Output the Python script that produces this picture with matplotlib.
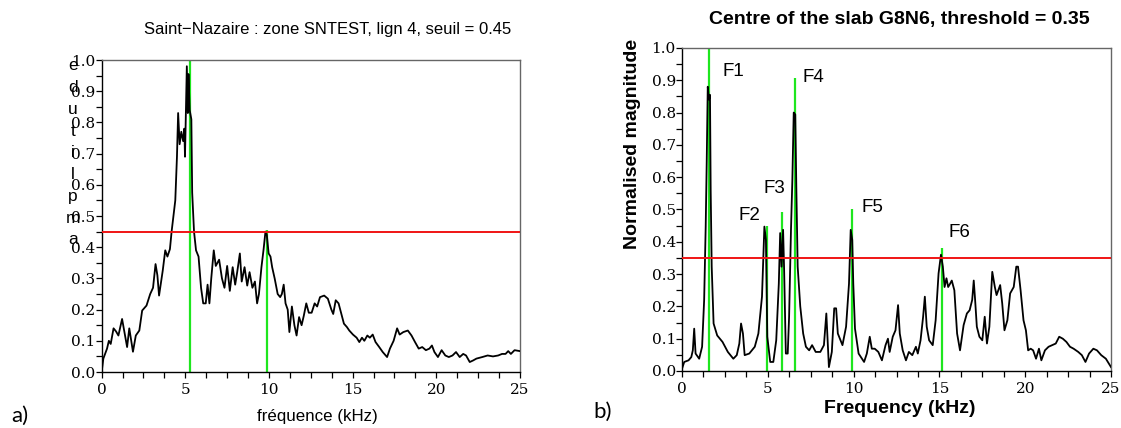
import matplotlib
matplotlib.use("Agg")
import matplotlib.pyplot as plt
from matplotlib.ticker import MultipleLocator, FormatStrFormatter

# panel a) spectrum (frequency kHz, normalised amplitude)
freq_a = [0, 0.1, 0.32, 0.43, 0.54, 0.71, 0.86, 1.0, 1.22, 1.39, 1.52, 1.65, 1.87, 2.04,
          2.25, 2.42, 2.68, 2.9, 3.07, 3.22, 3.33, 3.43, 3.65, 3.8, 3.93, 4.08, 4.18, 4.4,
          4.5, 4.57, 4.66, 4.76, 4.87, 4.94, 4.98, 5.09, 5.15, 5.19, 5.26, 5.36, 5.41, 5.52,
          5.64, 5.79, 5.94, 6.07, 6.22, 6.33, 6.44, 6.55, 6.7, 6.82, 7.02, 7.19, 7.34, 7.5,
          7.66, 7.83, 7.98, 8.1, 8.26, 8.37, 8.54, 8.7, 8.84, 9.01, 9.16, 9.29, 9.4, 9.55,
          9.68, 9.79, 9.87, 9.98, 10.09, 10.19, 10.34, 10.52, 10.67, 10.77, 10.88, 10.99,
          11.12, 11.22, 11.37, 11.52, 11.65, 11.8, 11.95, 12.08, 12.23, 12.38, 12.55, 12.73,
          12.88, 13.05, 13.3, 13.52, 13.73, 13.84, 13.99, 14.16, 14.31, 14.48, 14.66, 14.8,
          15.02, 15.24, 15.4, 15.56, 15.7, 15.88, 16.03, 16.2, 16.37, 16.59, 16.8, 17.06,
          17.23, 17.45, 17.66, 17.81, 18.03, 18.3, 18.52, 18.73, 18.95, 19.16, 19.38, 19.59,
          19.74, 19.89, 20.1, 20.32, 20.54, 20.75, 20.97, 21.18, 21.4, 21.61, 21.78, 22.0,
          22.2, 22.4, 22.75, 23.07, 23.39, 23.7, 23.93, 24.14, 24.3, 24.46, 24.68, 25.0]
amp_a = [0.0, 0.043, 0.075, 0.10, 0.09, 0.14, 0.13, 0.117, 0.17, 0.12, 0.08, 0.14, 0.065, 0.117,
         0.133, 0.197, 0.213, 0.25, 0.27, 0.346, 0.31, 0.245, 0.325, 0.39, 0.37, 0.394, 0.45, 0.55,
         0.69, 0.83, 0.73, 0.77, 0.74, 0.78, 0.69, 0.98, 0.83, 0.955, 0.84, 0.81, 0.575, 0.45,
         0.39, 0.37, 0.27, 0.22, 0.22, 0.28, 0.22, 0.30, 0.39, 0.34, 0.36, 0.30, 0.27, 0.34,
         0.26, 0.336, 0.28, 0.32, 0.38, 0.29, 0.336, 0.277, 0.32, 0.27, 0.29, 0.22, 0.25, 0.336,
         0.394, 0.45, 0.44, 0.38, 0.37, 0.336, 0.30, 0.25, 0.24, 0.25, 0.28, 0.22,
         0.20, 0.128, 0.21, 0.15, 0.117, 0.176, 0.15, 0.18, 0.22, 0.19, 0.19, 0.22,
         0.21, 0.24, 0.245, 0.235, 0.20, 0.186, 0.23, 0.22, 0.19, 0.155, 0.144, 0.133,
         0.12, 0.11, 0.096, 0.11, 0.10, 0.117, 0.11, 0.12, 0.096, 0.08, 0.064, 0.048,
         0.075, 0.10, 0.14, 0.12, 0.128, 0.133, 0.117, 0.096, 0.075, 0.08, 0.07, 0.075,
         0.085, 0.064, 0.048, 0.07, 0.053, 0.048, 0.053, 0.064, 0.048, 0.058, 0.053, 0.032,
         0.037, 0.043, 0.048, 0.053, 0.05, 0.053, 0.058, 0.058, 0.067, 0.058, 0.07, 0.067]
peaks_a = [5.3, 9.87]
peak_tops_a = [1.0, 0.455]
seuil_a = 0.45

# panel b) spectrum
freq_b = [0, 0.13, 0.38, 0.54, 0.63, 0.71, 0.79, 1.0, 1.17, 1.29, 1.38, 1.44, 1.5, 1.57, 1.63,
          1.67, 1.73, 1.84, 2.05, 2.36, 2.67, 2.99, 3.19, 3.34, 3.44, 3.55, 3.65, 3.92, 4.24,
          4.45, 4.66, 4.8, 4.89, 4.97, 5.14, 5.32, 5.49, 5.64, 5.72, 5.8, 5.89, 5.95, 6.05,
          6.16, 6.24, 6.35, 6.43, 6.51, 6.6, 6.66, 6.74, 6.89, 7.06, 7.22, 7.41, 7.58, 7.79,
          8.06, 8.27, 8.41, 8.56, 8.73, 8.87, 8.98, 9.08, 9.35, 9.56, 9.73, 9.83, 9.92, 9.98,
          10.08, 10.29, 10.61, 10.77, 10.94, 11.06, 11.23, 11.44, 11.65, 11.86, 12.0, 12.1,
          12.28, 12.44, 12.59, 12.69, 12.86, 13.05, 13.22, 13.42, 13.63, 13.74, 13.9, 14.05,
          14.15, 14.26, 14.4, 14.61, 14.78, 14.95, 15.09, 15.2, 15.3, 15.41, 15.51, 15.62,
          15.72, 15.87, 16.03, 16.2, 16.41, 16.6, 16.76, 16.91, 17.0, 17.08, 17.18, 17.33,
          17.5, 17.64, 17.77, 17.91, 18.08, 18.23, 18.33, 18.54, 18.66, 18.79, 18.96, 19.12,
          19.33, 19.48, 19.58, 19.73, 19.9, 20.04, 20.17, 20.32, 20.46, 20.63, 20.8, 20.94,
          21.15, 21.36, 21.57, 21.78, 21.98, 22.19, 22.4, 22.61, 22.82, 23.09, 23.3, 23.51,
          23.72, 23.97, 24.18, 24.43, 24.7, 25.0]
mag_b = [0.007, 0.028, 0.033, 0.043, 0.064, 0.131, 0.054, 0.038, 0.075, 0.22, 0.447, 0.65, 0.88,
         0.84, 0.855, 0.56, 0.323, 0.147, 0.11, 0.09, 0.059, 0.038, 0.049, 0.085, 0.147, 0.116,
         0.049, 0.054, 0.075, 0.116, 0.23, 0.447, 0.406, 0.106, 0.028, 0.028, 0.095, 0.27, 0.427,
         0.323, 0.437, 0.313, 0.054, 0.054, 0.168, 0.437, 0.592, 0.8, 0.794, 0.571, 0.323, 0.2,
         0.116, 0.075, 0.064, 0.08, 0.059, 0.059, 0.08, 0.178, 0.012, 0.059, 0.194, 0.194, 0.116,
         0.08, 0.137, 0.27, 0.437, 0.406, 0.27, 0.131, 0.054, 0.028, 0.054, 0.106, 0.069, 0.069,
         0.059, 0.033, 0.08, 0.1, 0.059, 0.106, 0.126, 0.204, 0.116, 0.064, 0.033, 0.059, 0.049,
         0.075, 0.054, 0.095, 0.168, 0.23, 0.137, 0.095, 0.08, 0.157, 0.302, 0.36, 0.323, 0.26,
         0.287, 0.26, 0.27, 0.28, 0.25, 0.116, 0.064, 0.142, 0.178, 0.188, 0.22, 0.28, 0.22,
         0.137, 0.106, 0.095, 0.168, 0.085, 0.137, 0.307, 0.26, 0.235, 0.266, 0.209, 0.126,
         0.157, 0.24, 0.26, 0.323, 0.323, 0.25, 0.157, 0.126, 0.064, 0.069, 0.064, 0.038, 0.069,
         0.033, 0.064, 0.075, 0.08, 0.085, 0.106, 0.1, 0.09, 0.075, 0.069, 0.059, 0.049, 0.028,
         0.054, 0.069, 0.064, 0.049, 0.038, 0.012]
peaks_b = [1.57, 4.93, 5.8, 6.56, 9.92, 15.14]
peak_tops_b = [1.0, 0.45, 0.493, 0.906, 0.501, 0.38]
peak_names = ["F1", "F2", "F3", "F4", "F5", "F6"]
name_x = [3.0, 3.9, 5.38, 7.65, 11.07, 16.16]
name_y = [0.926, 0.482, 0.565, 0.91, 0.506, 0.43]
seuil_b = 0.35

GREEN = "#1ee61e"
RED = "#f01414"
TICKFONT = "DejaVu Serif"

fig = plt.figure(figsize=(11.21, 4.28), dpi=100)
ax1 = fig.add_axes([0.0907, 0.1308, 0.3731, 0.729])
ax2 = fig.add_axes([0.6084, 0.1332, 0.3827, 0.7547])


def style_axes(ax):
    ax.set_xlim(0, 25)
    ax.set_ylim(0, 1)
    ax.xaxis.set_major_locator(MultipleLocator(5))
    ax.xaxis.set_minor_locator(MultipleLocator(1.25))
    ax.yaxis.set_major_locator(MultipleLocator(0.1))
    ax.yaxis.set_minor_locator(MultipleLocator(0.05))
    ax.yaxis.set_major_formatter(FormatStrFormatter("%.1f"))
    ax.tick_params(which="both", direction="out", length=4, width=0.9, color="black")
    ax.tick_params(axis="y", pad=0.5)
    ax.tick_params(axis="x", pad=4)
    for lab in ax.get_xticklabels() + ax.get_yticklabels():
        lab.set_family(TICKFONT)
        lab.set_fontsize(11)
    for side in ["left", "bottom"]:
        ax.spines[side].set_color("black")
        ax.spines[side].set_linewidth(1.0)
    for side in ["top", "right"]:
        ax.spines[side].set_color("#666666")
        ax.spines[side].set_linewidth(1.0)


# a)
style_axes(ax1)
ax1.vlines(peaks_a, 0, peak_tops_a, colors=GREEN, linewidth=1.6, zorder=2)
ax1.plot(freq_a, amp_a, color="black", linewidth=1.3, zorder=3)
ax1.axhline(seuil_a, color=RED, linewidth=1.4, zorder=4)
fig.text(0.2926, 0.932, "Saint\u2212Nazaire : zone SNTEST, lign 4, seuil = %.2f" % seuil_a,
         family="Liberation Sans", fontsize=12, ha="center", va="center")
fig.text(0.283, 0.026, "fréquence (kHz)", family="Liberation Sans", fontsize=12.2,
         ha="center", va="center")
for i, ch in enumerate("amplitude"):
    fig.text(0.0652, (428 - (240 - 21.8 * i)) / 428, ch, family="Liberation Sans",
             fontsize=12.5, ha="center", va="center")
fig.text(0.018, 0.028, "a)", family="Lato", fontsize=16, ha="center", va="center")

# b)
style_axes(ax2)
ax2.vlines(peaks_b, 0, peak_tops_b, colors=GREEN, linewidth=1.6, zorder=2)
ax2.plot(freq_b, mag_b, color="black", linewidth=1.3, zorder=3)
ax2.axhline(seuil_b, color=RED, linewidth=1.4, zorder=4)
for nx, ny, name in zip(name_x, name_y, peak_names):
    ax2.text(nx, ny, name, family="Liberation Sans", fontsize=13.5, ha="center", va="center")
fig.text(0.802, 0.955, "Centre of the slab G8N6, threshold = %.2f" % seuil_b,
         family="Liberation Sans", fontsize=14, fontweight="bold", ha="center", va="center")
fig.text(0.803, 0.046, "Frequency (kHz)", family="Liberation Sans", fontsize=14,
         fontweight="bold", ha="center", va="center")
fig.text(0.5638, 1 - 144 / 428, "Normalised magnitude", family="Liberation Sans",
         fontsize=14, fontweight="bold", rotation=90, ha="center", va="center")
fig.text(0.538, 0.037, "b)", family="Lato", fontsize=16, ha="center", va="center")

fig.savefig("out.png", dpi=100)
